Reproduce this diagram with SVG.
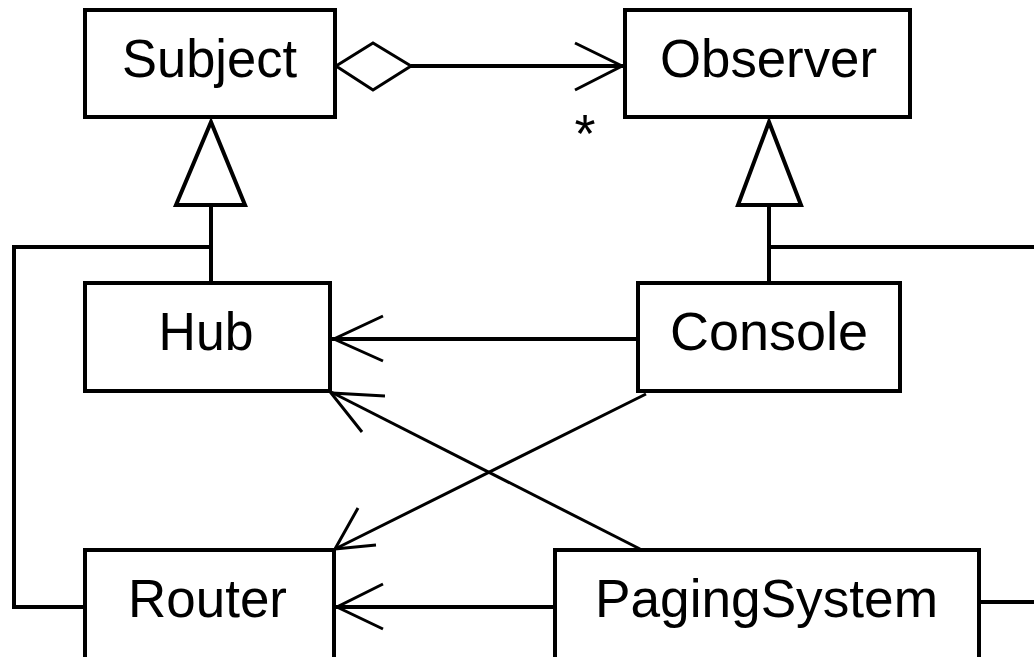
<svg xmlns="http://www.w3.org/2000/svg" width="1034" height="657" viewBox="0 0 1034 657">
  <style>
    .box { fill: #fff; stroke: #000; stroke-width: 4; }
    .lbl { font-family: "Liberation Sans", Arial, sans-serif; font-size: 53px; fill: #000; text-anchor: middle; }
    .ln { fill: none; stroke: #000; stroke-width: 4; }
    .thin { fill: none; stroke: #000; stroke-width: 3; }
    .tri { fill: #fff; stroke: #000; stroke-width: 4; stroke-linejoin: miter; }
  </style>
  <rect width="1034" height="657" fill="#fff"/>

  <g id="connectors">
    <!-- aggregation Subject -> Observer -->
    <polygon class="thin" points="336,66 373,43 411,66 373,90"/>
    <line class="ln" x1="411" y1="66" x2="623" y2="66"/>
    <polyline class="thin" points="575,43 622,66 575,90"/>
    <text class="lbl" x="585" y="152" style="font-size:54px">*</text>

    <!-- generalization Hub / Router -> Subject -->
    <polygon class="tri" points="211,122 176,205 245,205"/>
    <line class="ln" x1="211" y1="205" x2="211" y2="283"/>
    <polyline class="ln" points="211,247 14,247 14,607 85,607"/>

    <!-- generalization Console / PagingSystem -> Observer -->
    <polygon class="tri" points="769,122 738,205 801,205"/>
    <line class="ln" x1="769" y1="205" x2="769" y2="283"/>
    <line class="ln" x1="769" y1="247" x2="1034" y2="247"/>
    <line class="ln" x1="979" y1="602" x2="1034" y2="602"/>

    <!-- Console -> Hub -->
    <line class="ln" x1="638" y1="339" x2="332" y2="339"/>
    <polyline class="thin" points="383,316 334,339 383,361"/>

    <!-- PagingSystem -> Hub -->
    <line class="thin" x1="640" y1="549" x2="331" y2="392"/>
    <polyline class="thin" points="385,396 331,393 362,432"/>

    <!-- Console -> Router -->
    <line class="thin" x1="646" y1="394" x2="335" y2="549"/>
    <polyline class="thin" points="358,508 335,549 376,545"/>

    <!-- PagingSystem -> Router -->
    <line class="ln" x1="554" y1="607" x2="336" y2="607"/>
    <polyline class="thin" points="383,584 337,607 383,629"/>
  </g>

  <g id="subject">
    <rect class="box" x="85" y="10" width="250" height="107"/>
    <text class="lbl" x="209.5" y="77" textLength="175" lengthAdjust="spacingAndGlyphs">Subject</text>
  </g>
  <g id="observer">
    <rect class="box" x="625" y="10" width="285" height="107"/>
    <text class="lbl" x="768.5" y="77" textLength="217" lengthAdjust="spacingAndGlyphs">Observer</text>
  </g>
  <g id="hub">
    <rect class="box" x="85" y="283" width="245" height="108"/>
    <text class="lbl" x="206" y="350" textLength="95" lengthAdjust="spacingAndGlyphs">Hub</text>
  </g>
  <g id="console">
    <rect class="box" x="638" y="283" width="262" height="108"/>
    <text class="lbl" x="769" y="350" textLength="198" lengthAdjust="spacingAndGlyphs">Console</text>
  </g>
  <g id="router">
    <rect class="box" x="85" y="550" width="249" height="130"/>
    <text class="lbl" x="207.5" y="617" textLength="159" lengthAdjust="spacingAndGlyphs">Router</text>
  </g>
  <g id="paging-system">
    <rect class="box" x="555" y="550" width="424" height="130"/>
    <text class="lbl" x="766.5" y="617" textLength="343" lengthAdjust="spacingAndGlyphs">PagingSystem</text>
  </g>
</svg>
